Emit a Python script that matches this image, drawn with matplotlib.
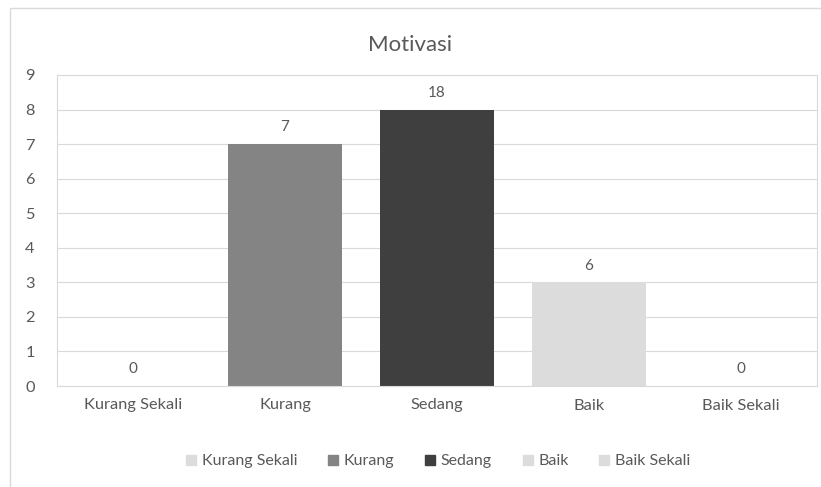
import matplotlib.pyplot as plt
from matplotlib.patches import Rectangle
from matplotlib.lines import Line2D

# chart values
categories = ["Kurang Sekali", "Kurang", "Sedang", "Baik", "Baik Sekali"]
heights = [0, 7, 8, 3, 0]
labels = ["0", "7", "18", "6", "0"]
colors = ["#dcdcdc", "#848484", "#3f3f3f", "#dcdcdc", "#dcdcdc"]

txt = "#595959"
plt.rcParams["font.family"] = ["Lato", "DejaVu Sans"]

fig = plt.figure(figsize=(8.21, 4.87), dpi=100)
ax = fig.add_axes([57 / 821, 1 - 386 / 487, 760 / 821, 311 / 487])

x = range(len(categories))
ax.bar(x, heights, width=0.755, color=colors, zorder=2)
for i, (h, lab) in enumerate(zip(heights, labels)):
    ax.annotate(lab, (i, h), xytext=(0, 12), textcoords="offset points",
                ha="center", va="center", fontsize=11, color=txt)

ax.set_xlim(-0.5, len(categories) - 0.5)
ax.set_ylim(0, 9)
ax.set_yticks(range(0, 10))
ax.set_xticks(list(x))
ax.set_xticklabels(categories)
ax.tick_params(length=0, colors=txt, labelsize=11.8)
ax.tick_params(axis="x", pad=9)
ax.tick_params(axis="y", pad=16)
ax.grid(axis="y", color="#d9d9d9", linewidth=0.8, zorder=0)
for s in ax.spines.values():
    s.set_color("#d9d9d9")
    s.set_linewidth(0.8)

fig.text(0.5, 1 - 45 / 487, "Motivasi", ha="center", va="center",
         fontsize=16, color=txt)

# outer chart border
fig.patches.append(Rectangle((10 / 821, -0.1), 1.2, 1.1 - 8 / 487,
                             transform=fig.transFigure, fill=False,
                             edgecolor="#d9d9d9", linewidth=1))

handles = [Line2D([], [], marker="s", linestyle="", markersize=7,
                  markerfacecolor=c, markeredgecolor=c) for c in colors]
fig.legend(handles, categories, loc="center", ncol=5,
           bbox_to_anchor=(0.532, 1 - 461 / 487), frameon=False,
           fontsize=11.5, labelcolor=txt, handletextpad=0.15,
           columnspacing=1.75, handlelength=1.0)

fig.savefig("out.png", dpi=100)
